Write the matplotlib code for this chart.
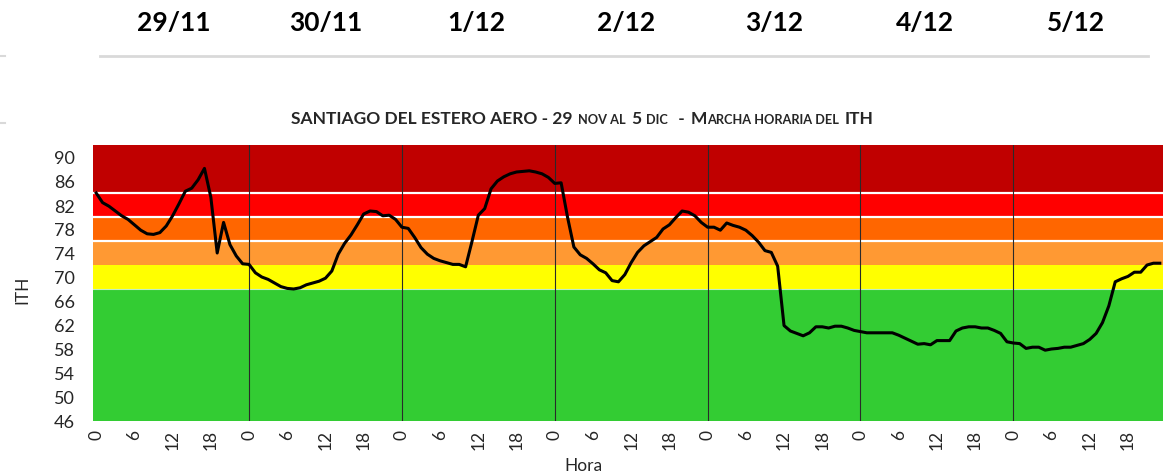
import matplotlib
matplotlib.use("Agg")
import matplotlib.pyplot as plt
from matplotlib.lines import Line2D
from matplotlib.offsetbox import TextArea, HPacker, AnnotationBbox

plt.rcParams['font.family'] = ['Lato', 'DejaVu Sans']

# dias y horas
dias = ['29/11', '30/11', '1/12', '2/12', '3/12', '4/12', '5/12']
horas_tick = ['0', '6', '12', '18']

# ITH horario por dia
ith_29nov = [84.0, 82.4, 81.8, 81.0, 80.2, 79.6, 78.7, 77.8, 77.2, 77.1, 77.4, 78.5,
             80.2, 82.2, 84.3, 84.8, 86.2, 88.1, 83.3, 74.0, 79.1, 75.4, 73.5, 72.2]
ith_30nov = [72.1, 70.7, 70.0, 69.6, 69.0, 68.4, 68.1, 68.0, 68.2, 68.7, 69.0, 69.3,
             69.8, 71.0, 73.8, 75.6, 77.0, 78.7, 80.5, 81.0, 80.9, 80.2, 80.3, 79.6]
ith_1dic = [78.3, 78.1, 76.6, 74.9, 73.8, 73.1, 72.7, 72.4, 72.1, 72.1, 71.7, 75.9,
            80.3, 81.4, 84.7, 86.0, 86.7, 87.2, 87.5, 87.6, 87.7, 87.5, 87.2, 86.6]
ith_2dic = [85.6, 85.7, 80.0, 75.0, 73.7, 73.1, 72.2, 71.2, 70.7, 69.4, 69.2, 70.4,
            72.4, 74.1, 75.2, 75.9, 76.6, 78.0, 78.7, 79.9, 81.0, 80.8, 80.2, 79.1]
ith_3dic = [78.3, 78.3, 77.8, 79.0, 78.6, 78.3, 77.8, 76.9, 75.8, 74.4, 74.1, 71.8,
            61.9, 61.0, 60.6, 60.2, 60.7, 61.7, 61.7, 61.5, 61.8, 61.8, 61.5, 61.1]
ith_4dic = [60.9, 60.7, 60.7, 60.7, 60.7, 60.7, 60.3, 59.8, 59.3, 58.8, 58.9, 58.7,
            59.4, 59.4, 59.4, 61.0, 61.5, 61.7, 61.7, 61.5, 61.5, 61.1, 60.6, 59.2]
ith_5dic = [59.0, 58.9, 58.1, 58.3, 58.3, 57.8, 58.0, 58.1, 58.3, 58.3, 58.6, 58.9,
            59.6, 60.6, 62.4, 65.2, 69.2, 69.7, 70.1, 70.8, 70.8, 72.0, 72.3, 72.3]

# umbrales de categorias ITH
umbrales = [46, 68, 72, 76, 80, 84, 92]
colores = ['#33CC33', '#FFFF00', '#FF9933', '#FF6600', '#FF0000', '#C00000']

ith = ith_29nov + ith_30nov + ith_1dic + ith_2dic + ith_3dic + ith_4dic + ith_5dic
x = list(range(len(ith)))

W, H = 1165, 477
fig = plt.figure(figsize=(W / 100, H / 100), dpi=100)
ax = fig.add_axes([93 / W, 1 - 422 / H, 1070 / W, 276 / H])

for lo, hi, c in zip(umbrales[:-1], umbrales[1:], colores):
    ax.axhspan(lo, hi, color=c, lw=0, zorder=0)
for u in umbrales[3:-1]:
    ax.axhline(u, color='white', lw=1.6, zorder=1)
ax.axhline(umbrales[1], color='white', lw=0.8, alpha=0.7, zorder=1)

for d in range(1, len(dias)):
    ax.axvline(d * 24, color='#2a2a2a', lw=0.8, zorder=2)

ax.plot(x, ith, color='black', lw=2.2, zorder=3, solid_joinstyle='round')

ax.set_xlim(-0.5, len(ith) - 0.5)
ax.set_ylim(46, 92)
ax.set_yticks(range(46, 91, 4))
ax.set_xticks(range(0, len(ith), 6))
ax.set_xticklabels(horas_tick * len(dias), rotation=90)
ax.tick_params(axis='both', length=0, colors='#262626')
ax.tick_params(axis='y', pad=13, labelsize=13)
ax.tick_params(axis='x', pad=6, labelsize=12.5)
for s in ax.spines.values():
    s.set_visible(False)

ax.set_xlabel('Hora', fontsize=12.5, color='#262626')
ax.set_ylabel('ITH', fontsize=12.5, color='#262626')
ax.xaxis.set_label_coords((583 - 93) / 1070, (422 - 458) / 276)
ax.yaxis.set_label_coords((30 - 93) / 1070, (422 - 290) / 276)

# titulo con versalitas
big = dict(fontsize=12.5, fontweight='bold', color='#262626')
small = dict(fontsize=9.2, fontweight='bold', color='#262626')
marcha = HPacker(children=[TextArea('M', textprops=big),
                           TextArea('ARCHA HORARIA DEL', textprops=small)],
                 align='baseline', pad=0, sep=0.4)
titulo = HPacker(children=[TextArea('SANTIAGO DEL ESTERO AERO - 29', textprops=big),
                           TextArea('NOV AL', textprops=small),
                           TextArea('5', textprops=big),
                           TextArea('DIC', textprops=small),
                           TextArea(' -', textprops=big),
                           marcha,
                           TextArea('ITH', textprops=big)],
                 align='baseline', pad=0, sep=4)
fig.add_artist(AnnotationBbox(titulo, (582 / W, 1 - 119 / H), xycoords='figure fraction',
                              frameon=False, box_alignment=(0.5, 0.5)))

# encabezado de fechas
xs_dias = [174, 326, 476, 626, 774, 925, 1076]
for xd, d in zip(xs_dias, dias):
    fig.text(xd / W, 1 - 23 / H, d, ha='center', va='center', fontsize=19,
             fontweight='bold', color='black')
fig.add_artist(Line2D([100 / W, 1148 / W], [1 - 57 / H, 1 - 57 / H], color='#d9d9d9', lw=2))
fig.add_artist(Line2D([0, 5 / W], [1 - 57 / H, 1 - 57 / H], color='#d9d9d9', lw=1.5))
fig.add_artist(Line2D([0, 5 / W], [1 - 124 / H, 1 - 124 / H], color='#d9d9d9', lw=1.5))

fig.savefig('out.png', dpi=100)
